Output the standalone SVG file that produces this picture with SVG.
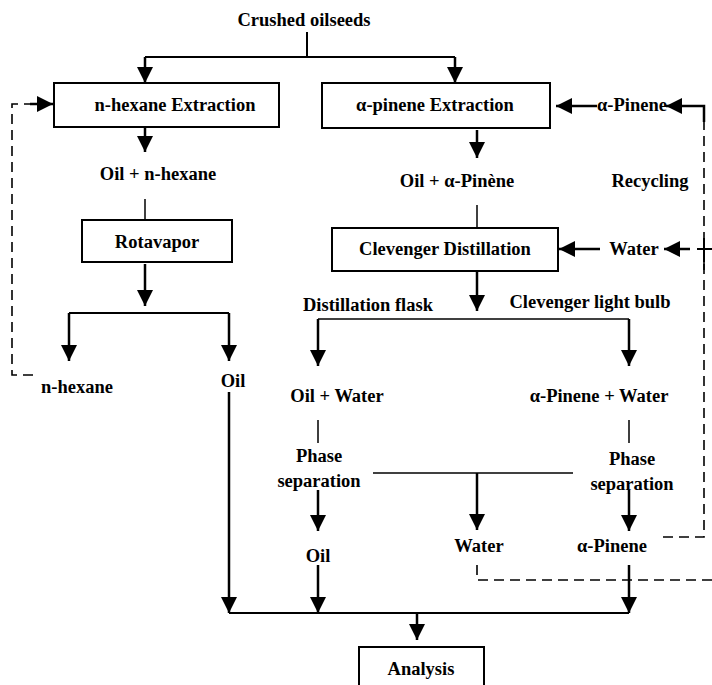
<svg xmlns="http://www.w3.org/2000/svg" width="712" height="685" viewBox="0 0 712 685">
<defs>
<style>
text{font-family:"Liberation Serif","Times New Roman",serif;font-weight:bold;font-size:18.5px;fill:#000;text-anchor:middle}
.box{fill:#fff;stroke:#000;stroke-width:2}
.a{stroke:#000;stroke-width:2.5;fill:none;marker-end:url(#ah)}
.l{stroke:#000;stroke-width:2;fill:none}
.t{stroke:#000;stroke-width:1.5;fill:none}
.d{stroke:#000;stroke-width:1.6;fill:none;stroke-dasharray:10 6}
</style>
<marker id="ah" markerUnits="userSpaceOnUse" markerWidth="16" markerHeight="16" viewBox="0 0 16 16" refX="16" refY="8" orient="auto">
<path d="M0,0 L16,8 L0,16 z" fill="#000"/>
</marker>
</defs>
<g id="connectors">
<path class="l" d="M307,32 V57 M145,57 H455"/>
<path class="a" d="M145,57 V83"/>
<path class="a" d="M455,57 V83"/>
<path class="a" d="M145,127 V152"/>
<path class="t" d="M145,199 V220"/>
<path class="a" d="M145,264 V306"/>
<path class="l" d="M69,313 H229"/>
<path class="a" d="M69,313 V361"/>
<path class="a" d="M229,313 V361"/>
<path class="d" d="M33,375 H12 V104 H30"/>
<path class="a" d="M30,104 H53"/>
<path class="a" d="M229,392 V613"/>
<path class="a" d="M477,130 V158"/>
<path class="t" d="M477,205 V228"/>
<path class="a" d="M597,106 H556"/>
<path class="d" d="M663,537 H704 V122"/>
<path class="a" d="M704,122 V106 H666"/>
<path class="a" d="M600,249 H559"/>
<path class="d" d="M477,565 V580 H712"/>
<path class="l" d="M712,249 H697 M704,238 V262"/>
<path class="d" d="M704,262 V270"/>
<path class="a" d="M690,249 H664"/>
<path class="a" d="M477,272 V311"/>
<path class="t" d="M318,319 H629"/>
<path class="a" d="M318,319 V366"/>
<path class="a" d="M629,319 V366"/>
<path class="t" d="M318,420 V443 M629,420 V443"/>
<path class="t" d="M373,473 H573"/>
<path class="a" d="M477,473 V530"/>
<path class="a" d="M318,490 V531"/>
<path class="a" d="M629,490 V531"/>
<path class="a" d="M318,565 V613"/>
<path class="a" d="M629,565 V613"/>
<path class="l" d="M229,613 H629"/>
<path class="a" d="M417,613 V640"/>
</g>
<g id="crushed"><text x="304" y="26">Crushed oilseeds</text></g>
<g id="hexane-extraction"><rect class="box" x="54" y="83" width="225" height="44"/><text x="175" y="111">n-hexane Extraction</text></g>
<g id="pinene-extraction"><rect class="box" x="322" y="83" width="228" height="45"/><text x="435" y="111">α-pinene Extraction</text></g>
<g id="pinene-recycle"><text x="632" y="111">α-Pinene</text></g>
<g id="recycling"><text x="650" y="187">Recycling</text></g>
<g id="oil-hexane"><text x="158" y="180">Oil + n-hexane</text></g>
<g id="oil-pinene"><text x="457" y="187">Oil + α-Pinène</text></g>
<g id="rotavapor"><rect class="box" x="82" y="220" width="150" height="42"/><text x="157" y="248">Rotavapor</text></g>
<g id="clevenger"><rect class="box" x="332" y="228" width="226" height="43"/><text x="445" y="255">Clevenger Distillation</text></g>
<g id="water-in"><text x="634" y="255">Water</text></g>
<g id="flask"><text x="368" y="311">Distillation flask</text></g>
<g id="bulb"><text x="590" y="308">Clevenger light bulb</text></g>
<g id="hexane-out"><text x="77" y="393">n-hexane</text></g>
<g id="oil-left"><text x="233" y="387">Oil</text></g>
<g id="oil-water"><text x="337" y="402">Oil + Water</text></g>
<g id="pinene-water"><text x="599" y="402">α-Pinene + Water</text></g>
<g id="phase-left"><text x="319" y="462">Phase</text><text x="319" y="487">separation</text></g>
<g id="phase-right"><text x="632" y="465">Phase</text><text x="632" y="490">separation</text></g>
<g id="oil-bottom"><text x="318" y="562">Oil</text></g>
<g id="water-bottom"><text x="479" y="552">Water</text></g>
<g id="pinene-bottom"><text x="612" y="552">α-Pinene</text></g>
<g id="analysis"><rect class="box" x="359" y="647" width="125" height="45"/><text x="421" y="675">Analysis</text></g>
</svg>
